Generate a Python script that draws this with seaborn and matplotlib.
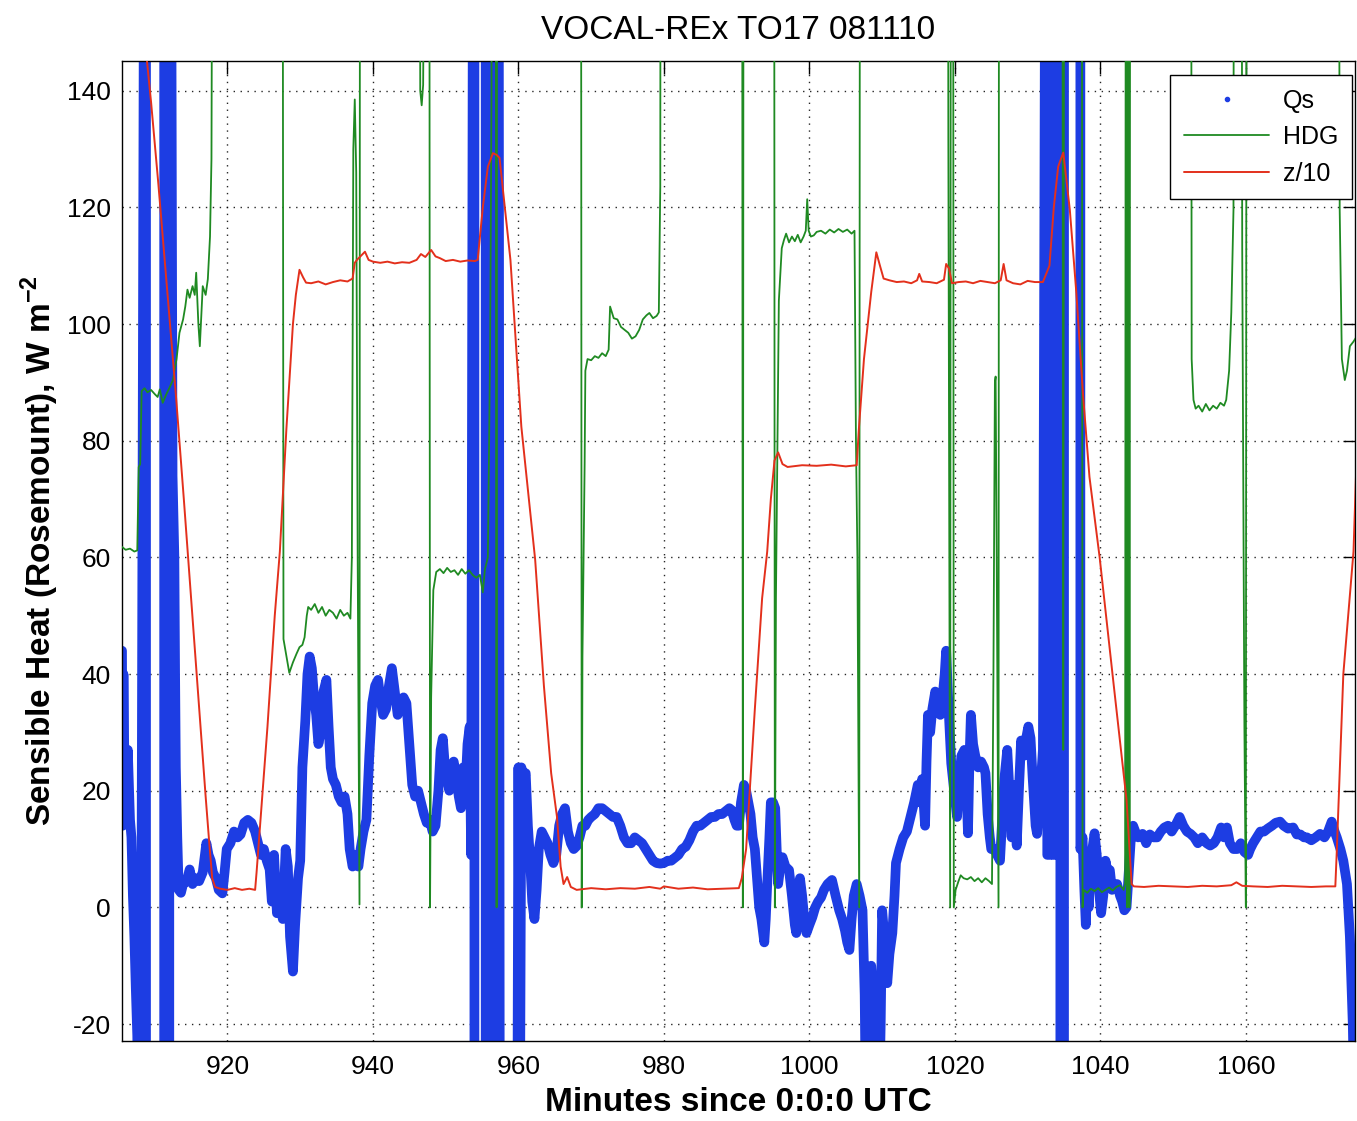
import matplotlib
matplotlib.use("Agg")
import matplotlib.pyplot as plt
from matplotlib.lines import Line2D
import pandas as pd
import seaborn as sns

# ---------------- data ----------------
title = "VOCAL-REx TO17 081110"
x_label = "Minutes since 0:0:0 UTC"
y_label = r"Sensible Heat (Rosemount), W m$^{\mathbf{-2}}$"
series_names = ["Qs", "HDG", "z/10"]
x_ticks = [920, 940, 960, 980, 1000, 1020, 1040, 1060]
y_ticks = [-20, 0, 20, 40, 60, 80, 100, 120, 140]

# Qs (sensible heat), in pieces; 300 / -60 are off-scale samples
qs_t_a = [905.5, 905.6, 905.7, 905.8, 906.0, 906.3, 906.6, 906.8, 907.0, 907.2, 907.4, 907.6, 907.8,
          908.0, 908.2, 908.8, 908.8, 911.3, 911.3, 911.7, 911.7, 912.0, 912.0]
qs_v_a = [44, 14, 40, 28, 22, 27, 15, 12, 2, -5, -14, -22, -40,
          -20, 11, 300, -60, -60, 300, 300, -60, -60, 300]

qs_t_b = [
    912.45, 912.7, 912.8, 912.9, 913.1, 913.3, 913.6, 913.9, 914.4, 914.8, 915.2, 915.6, 916.1, 916.6,
    917.1, 917.4, 917.7, 918.0, 918.4, 918.8, 919.3, 919.6, 919.9, 920.4, 920.9, 921.4, 921.8, 922.3,
    922.8, 923.3, 923.8, 924.2, 924.6, 925.0, 925.4, 925.8, 926.1, 926.4, 926.8, 927.2, 927.6, 928.0,
    928.3, 928.6, 929.0, 929.3, 929.7, 930.0, 930.3, 930.7, 931.0, 931.3, 931.6, 931.9, 932.2, 932.5,
    932.8, 933.2, 933.6, 933.9, 934.2, 934.5, 934.9, 935.3, 935.7, 936.1, 936.5, 936.8, 937.2, 937.6,
    938.0, 938.3, 938.7, 939.1, 939.5, 939.9, 940.3, 940.7, 941.0, 941.4, 941.8, 942.2, 942.6, 943.0,
    943.4, 943.8, 944.2, 944.6, 945.0, 945.4, 945.8, 946.2, 946.6, 947.0, 947.4, 947.8, 948.2, 948.6,
    949.0, 949.3, 949.6, 949.9, 950.2, 950.5, 950.8, 951.1, 951.5, 951.8, 952.1, 952.4, 952.7, 953.0,
    953.3, 953.5,
]
qs_v_b = [
    74, 60, 40, 24, 12, 3, 2.5, 4, 4.5, 6.5, 4, 5, 4.5, 6,
    11, 9, 8, 6, 5, 3, 2.4, 6, 10, 11, 13, 12, 12.5, 14.5,
    15, 14.5, 13, 11, 9, 10, 8, 6.5, 1, 9, -1, 5, -2, 10,
    7, -5, -11, -3, 5, 8, 24, 32, 40, 43, 41, 36, 33, 28,
    30, 37, 39, 31, 24, 22, 21, 19, 18, 19, 16, 10, 7, 9,
    7, 10, 13, 15, 26, 35, 38, 39, 36, 33, 34, 38, 41, 37,
    33, 35, 36, 35, 28, 21, 19, 20, 18, 16, 14.5, 15, 13, 14,
    20, 27, 29, 24, 22, 20, 24, 25, 22, 19, 17, 24, 20, 28,
    31, 9,
]

qs_t_c = [953.95, 953.95, 955.5, 955.5, 956.7, 956.7, 957.2, 957.2, 957.45, 959.8]
qs_v_c = [300, -60, -60, 300, 300, -60, -60, 300, -60, -60]

qs_t_d = [
    960.0, 960.2, 960.4, 960.7, 961.0, 961.3, 961.6, 961.9, 962.2, 962.5, 962.8, 963.2, 963.6, 964.0,
    964.4, 964.8, 965.2, 965.6, 966.0, 966.4, 966.8, 967.2, 967.6, 968.0, 968.4, 968.8, 969.2, 969.6,
    970.0, 970.5, 971.0, 971.5, 972.0, 972.5, 973.0, 973.5, 974.0, 974.5, 975.0, 975.5, 976.0, 976.5,
    977.0, 977.5, 978.0, 978.5, 979.0, 979.5, 980.0, 980.5, 981.0, 981.5, 982.0, 982.5, 983.0, 983.5,
    984.0, 984.5, 985.0, 985.5, 986.0, 986.5, 987.0, 987.5, 988.0, 988.5, 989.0, 989.3, 989.7, 990.0,
    990.3, 990.6, 991.0, 991.3, 991.6, 991.9, 992.2, 992.5, 992.8, 993.1, 993.4, 993.8, 994.0, 994.2,
    994.5, 994.7, 995.0, 995.3, 995.5, 995.7, 996.0, 996.3, 996.7, 997.2, 997.6, 998.0, 998.2, 998.5,
    998.7, 999.0, 999.3, 999.6, 1000.0, 1000.4, 1000.8, 1001.2, 1001.6, 1002.0, 1002.5, 1003.1, 1003.6,
    1004.1, 1004.5, 1004.9, 1005.2, 1005.5, 1005.8, 1006.1, 1006.5, 1006.9, 1007.3, 1007.6, 1007.8,
    1008.0, 1008.3, 1008.5, 1008.8, 1009.1, 1009.5, 1009.8, 1010.0, 1010.3, 1010.7, 1011.0, 1011.4,
    1011.7, 1011.9, 1012.4, 1012.9, 1013.4, 1013.9, 1014.4, 1014.9, 1015.2, 1015.5, 1015.9, 1016.1,
    1016.3, 1016.6, 1016.9, 1017.3, 1017.7, 1018.0, 1018.3, 1018.6, 1018.8, 1019.1, 1019.5, 1019.9,
    1020.3, 1020.6, 1020.9, 1021.3, 1021.6, 1021.8, 1022.0, 1022.2, 1022.5, 1022.8, 1023.2, 1023.6,
    1024.0, 1024.2, 1024.5, 1024.8, 1025.0, 1025.4, 1025.8, 1026.2, 1026.5, 1026.8, 1027.2, 1027.5,
    1027.8, 1028.1, 1028.5, 1028.8, 1029.1, 1029.5, 1029.8, 1030.1, 1030.4, 1030.7, 1031.1, 1031.3,
    1031.6, 1031.9, 1032.1,
]
qs_v_d = [
    24, -40, 24, 22, 23, 14, 8, 1, -2, 3, 10, 13, 12, 11,
    9, 7.6, 9, 14, 16, 17, 13, 11, 10, 10.5, 12, 14, 14, 15,
    15.5, 16, 17, 17, 16.5, 16, 15.5, 15.5, 14, 12, 11, 11, 12, 11.5,
    11, 10, 9, 8, 7.6, 7.5, 7.6, 8, 8, 8.5, 9, 10, 10.4, 11.5,
    13, 14, 14, 14.5, 15, 15.5, 15.5, 16, 16, 16.5, 17, 16.7, 15, 14,
    14, 18, 21, 20, 18, 16, 12, 10, 5, 0, -2, -6, -2, 4,
    12, 18, 18, 17, 10, 4, 7, 8.6, 7, 6.4, 2, -3, -4.4, 1,
    5, 2, -2, -4.4, -3, -1.7, 0, 1, 1.7, 3, 4, 4.7, 2,
    -0.5, -2, -4, -6, -7.3, -2, 2, 4, 2, -0.5, -15, -40,
    -25, -12, -10, -15, -25, -40, -20, -0.5, -5, -13, -8, -4.4,
    2, 7.6, 10, 12, 13, 15.5, 18, 21, 18, 22, 14, 25,
    33, 30, 34, 37, 35, 33, 36, 40, 44, 35, 24.7, 20,
    15.5, 22, 26, 27, 20, 12.7, 25, 33, 28, 26, 24, 25,
    24, 23, 16, 12, 10, 10, 9, 8, 15, 22, 27, 20,
    12, 21, 10.6, 20, 28.6, 26, 29, 31, 29, 22, 14, 12.6,
    18, 23, 27,
]

qs_t_e = [1032.7, 1032.7, 1033.1, 1033.1, 1033.5, 1033.5, 1033.9, 1033.9, 1034.5, 1034.5,
          1035.0, 1035.0, 1037.25, 1037.25]
qs_v_e = [300, 9, 9, 300, 300, 9, 9, 300, 300, -60, -60, 300, 300, 10]

qs_t_f = [
    1037.55, 1037.8, 1038.0, 1038.2, 1038.4, 1038.6, 1038.9, 1039.2, 1039.5, 1039.8, 1040.1, 1040.4,
    1040.7, 1041.0, 1041.3, 1041.6, 1042.0, 1042.3, 1042.7, 1043.0, 1043.3, 1043.6, 1043.9, 1044.2,
    1044.5, 1044.8, 1045.2, 1045.8, 1046.3, 1046.8, 1047.3, 1047.8, 1048.3, 1048.8, 1049.3, 1049.8,
    1050.3, 1050.9, 1051.4, 1051.9, 1052.4, 1052.9, 1053.4, 1054.0, 1054.6, 1055.1, 1055.6, 1056.1,
    1056.6, 1057.0, 1057.4, 1057.8, 1058.3, 1058.8, 1059.3, 1059.8, 1060.3, 1060.6, 1061.0, 1061.5,
    1062.0, 1062.5, 1063.0, 1063.6, 1064.1, 1064.7, 1065.2, 1065.8, 1066.5, 1067.0, 1067.5, 1068.0,
    1068.4, 1069.0, 1069.6, 1070.2, 1070.8, 1071.3, 1071.8, 1072.2, 1072.5, 1073.0, 1073.4, 1073.9,
    1074.3, 1074.7, 1075.0,
]
qs_v_f = [
    12, 3, -3, 5, 0, 6, 10, 12.7, 9, 3, -1, 2,
    8, 6, 6.4, 3, 4, 4, 2, 1, -0.5, 0, 6, 12,
    14, 13, 12, 12.6, 11, 12.5, 12, 12, 13, 13.7, 14, 13,
    14, 15.5, 14, 13, 12.6, 12, 11, 12, 11, 10.6, 11, 12,
    13.7, 12, 13.7, 11, 10, 10, 11, 9.5, 9, 10, 11, 12,
    13, 13, 13.5, 14, 14.5, 14.7, 14, 13.5, 13.7, 12.5, 12.5, 12,
    12, 11.5, 12, 12.6, 12, 13, 14.7, 13, 12, 10, 8, 4,
    -5, -20, -40,
]

hdg_minutes = [
    905.5, 906.0, 906.6, 907.2, 907.6, 907.8, 908.0, 908.2, 908.6, 909.0, 909.5, 910.0, 910.4, 910.7,
    911.1, 911.6, 912.0, 912.5, 913.0, 913.4, 913.9, 914.2, 914.5, 914.8, 915.2, 915.5, 915.7, 916.0,
    916.2, 916.6, 917.0, 917.3, 917.6, 917.8, 918.2,
    927.5, 927.7, 928.5, 929.0, 929.5, 929.9, 930.3, 930.6, 930.9, 931.1, 931.5, 932.0, 932.5, 933.0,
    933.5, 934.0, 934.5, 935.0, 935.5, 936.0, 936.5, 936.9, 937.1, 937.3, 937.5, 937.7, 937.9, 938.15,
    938.25, 946.3, 946.5, 946.7, 946.9, 947.7, 947.85, 948.0, 948.3, 948.7, 949.2, 949.7, 950.2, 950.7,
    951.2, 951.7, 952.2, 952.7, 953.2, 953.7, 954.2, 954.7, 955.1, 955.4, 955.8, 956.1, 956.3, 956.4,
    956.8, 957.0, 957.1,
    968.55, 968.7, 968.8, 969.1, 969.2, 969.5, 970.0, 970.5, 971.0, 971.5, 972.0, 972.4, 972.6, 973.1,
    973.6, 974.1, 974.6, 975.1, 975.6, 976.1, 976.6, 977.1, 977.6, 978.0, 978.5, 979.0, 979.3, 979.5,
    979.6, 990.7, 990.85, 991.0, 995.1, 995.25, 995.4, 995.8, 996.2, 996.5, 996.8, 997.2, 997.6,
    998.0, 998.4, 998.8, 999.2, 999.5, 999.7, 999.9, 1000.2, 1000.6, 1001.0, 1001.6, 1002.2, 1002.8,
    1003.4, 1004.0, 1004.6, 1005.2, 1005.8, 1006.2, 1006.4, 1006.6, 1006.85, 1007.0,
    1018.95, 1019.1, 1019.35, 1019.5, 1019.7, 1019.85, 1020.1, 1020.5, 1020.8, 1021.2, 1021.7, 1022.2,
    1022.7, 1023.2, 1023.7, 1024.2, 1024.7, 1025.1, 1025.3, 1025.5, 1025.6, 1025.75, 1026.0, 1026.1,
    1034.7, 1034.9, 1035.1, 1037.4, 1037.55, 1037.7, 1038.2, 1038.7, 1039.2, 1039.7, 1040.2, 1040.7,
    1041.2, 1041.7, 1042.2, 1042.7, 1043.2, 1043.4, 1043.55, 1043.7, 1043.85, 1044.0, 1044.15,
    1052.4, 1052.55, 1052.8, 1053.1, 1053.5, 1054.0, 1054.5, 1055.0, 1055.5, 1056.0, 1056.5, 1057.0,
    1057.3, 1057.7, 1058.0, 1058.3, 1058.45, 1059.3, 1059.5, 1059.8, 1060.0, 1060.15,
    1072.6, 1072.9, 1073.2, 1073.6, 1073.9, 1074.3, 1074.8, 1075.3,
]
hdg_values = [
    61.8, 61.3, 61.5, 61.0, 61.2, 75.5, 76, 88.5, 89, 88.3, 88.7, 88, 87.5, 88.8,
    86.5, 88, 89, 90.4, 94, 98.5, 100.8, 103, 105.9, 104.5, 106.5, 105, 108.8, 100,
    96.2, 106.5, 105, 107.7, 115, 128.3, 300,
    300, 46, 40.2, 42, 43.5, 44.6, 45, 46.3, 50, 51.5, 51, 52, 50.5, 51.5,
    50, 51, 50.5, 49.5, 51, 50, 50.5, 49.5, 60, 130, 138.5, 126, 60, 0.5,
    300, 300, 140, 137.5, 141, 300, 0, 36, 54.4, 57.5, 58, 57.3, 58.2, 57.5,
    57.8, 57, 58, 57.2, 57.8, 57, 56.5, 57, 54, 58, 60, 95, 140, 300,
    300, 0, 300,
    300, 0, 43, 76, 92, 94, 93.8, 94.5, 94.2, 95, 94.5, 95.6, 103, 101,
    100.8, 99.5, 99, 98.5, 97.5, 97.9, 99, 100.8, 101.5, 101.9, 101, 101.4, 102, 123.6,
    300, 300, 0, 300, 300, 0, 53, 104, 113, 114.4, 115.5, 114, 115,
    114.2, 115.3, 114, 115, 116, 121.4, 116, 115, 115.2, 115.8, 116, 115.5, 116.2,
    115.7, 116.3, 115.8, 116.2, 115.5, 116, 80, 60, 0, 300,
    300, 132, 0, 300, 300, 0, 3, 4.5, 5.5, 5, 4.8, 5.2,
    4.5, 5, 4.3, 5, 4.5, 4, 40, 90, 91, 60, 0, 300,
    300, 27, 300, 300, 0, 3, 2.5, 3.2, 2.8, 3.3, 2.6, 3,
    3.4, 2.9, 3.5, 3.8, 3, 4, 300, 0, 300, 0, 300,
    300, 94, 87, 85.5, 86, 85, 86.3, 85.2, 86, 85.5, 86.5, 86,
    87, 92, 102, 119.6, 300, 300, 113, 31, 0, 300,
    300, 119.6, 94, 90.4, 92, 96.2, 97, 98,
]

z_minutes = [
    908.7, 909.5, 910.5, 911.5, 912.9, 914.0, 915.0, 916.0, 917.0, 917.5, 917.9, 918.3, 919.0, 920.0,
    921.0, 922.0, 923.0, 923.8, 924.0, 924.4, 925.5, 926.5, 927.2, 928.1, 929.0, 929.4, 929.9, 930.4,
    930.8, 931.5, 932.5, 933.5, 934.5, 935.5, 936.5, 937.2, 937.5, 937.8, 938.2, 938.9, 939.4, 940.0,
    941.0, 942.0, 943.0, 944.0, 945.0, 946.0, 946.6, 947.2, 948.0, 948.6, 949.2, 950.0, 951.0, 952.0,
    953.0, 954.0, 954.4, 955.1, 955.8, 956.5, 957.0, 957.4, 958.9, 960.4, 962.3, 963.5, 964.5, 965.3,
    965.8, 966.2, 966.7, 967.2, 968.0, 970.0, 972.0, 974.0, 976.0, 978.0, 979.5, 980.0, 982.0, 984.0,
    986.0, 988.0, 990.3, 990.7, 991.3, 992.5, 993.5, 994.2, 994.7, 995.2, 995.7, 996.3, 997.0, 999.0,
    1001.0, 1003.0, 1005.0, 1006.5, 1006.8, 1007.5, 1008.5, 1009.2, 1009.7, 1010.2, 1011.0, 1012.0,
    1013.0, 1014.0, 1014.8, 1015.1, 1015.5, 1016.5, 1017.5, 1018.5, 1018.8, 1019.2, 1019.6, 1020.5,
    1021.5, 1022.5, 1023.5, 1024.5, 1025.5, 1026.3, 1026.7, 1027.1, 1028.0, 1029.0, 1030.0, 1031.0,
    1032.1, 1033.0, 1033.6, 1034.2, 1034.9, 1035.8, 1036.7, 1037.6, 1038.5, 1039.9, 1041.8, 1043.6,
    1044.3, 1044.6, 1046.0, 1048.0, 1050.0, 1052.0, 1054.0, 1056.0, 1058.0, 1058.7, 1059.5, 1061.0,
    1063.0, 1065.0, 1067.0, 1069.0, 1071.0, 1072.3, 1072.5, 1073.4, 1074.8, 1075.3,
]
z_values = [
    148, 138, 124, 109, 88, 70, 53, 36, 19, 11, 5, 3.5, 3.2, 3.0,
    3.3, 3.0, 3.2, 3.0, 6, 12.7, 31, 50, 61, 82, 100, 105, 109.3, 108,
    107.1, 107, 107.3, 106.8, 107.2, 107.5, 107.3, 107.8, 110.5, 111, 111.5, 112.4, 111, 110.7,
    110.5, 110.7, 110.4, 110.6, 110.5, 111, 112, 111.5, 112.7, 111.6, 111.3, 110.8, 111, 110.7,
    110.9, 110.8, 111, 120, 127, 129.3, 129, 128.5, 111, 82.4, 59.6, 38, 23, 15.5,
    7, 4, 5.2, 3.5, 3, 3.3, 3.1, 3.3, 3.2, 3.5, 3.2, 3.6, 3.2, 3.4,
    3.1, 3.2, 3.3, 5, 10, 34, 53, 61, 70, 76.6, 78, 76, 75.5, 75.8,
    75.7, 75.9, 75.6, 75.8, 82, 94, 105.5, 112.3, 110, 107.8, 107.5, 107.2,
    107.3, 107, 107.5, 108.6, 107.3, 107.2, 107, 107.6, 110.3, 109.5, 107, 107.2,
    107.3, 107, 107.4, 107.2, 107, 107.5, 110.3, 107.5, 107, 106.8, 107.4, 107.2,
    107.2, 110, 120, 127, 129.4, 119.6, 105.3, 88.2, 73.8, 60, 38.5, 18.4,
    4, 3.6, 3.5, 3.7, 3.6, 3.5, 3.7, 3.6, 3.8, 4.3, 3.7, 3.6,
    3.5, 3.7, 3.6, 3.5, 3.6, 3.6, 9.6, 40, 61, 80,
]

qs_minutes = qs_t_a + qs_t_b + qs_t_c + qs_t_d + qs_t_e + qs_t_f
qs_values = qs_v_a + qs_v_b + qs_v_c + qs_v_d + qs_v_e + qs_v_f

# ---------------- styling ----------------
sns.set_style("white")
plt.rcParams["font.family"] = ["Liberation Sans", "DejaVu Sans"]
plt.rcParams["mathtext.fontset"] = "custom"
plt.rcParams["mathtext.rm"] = "Liberation Sans"
plt.rcParams["mathtext.bf"] = "Liberation Sans:bold"
plt.rcParams["axes.unicode_minus"] = False
for k in ["text.color", "axes.labelcolor", "xtick.color", "ytick.color", "axes.edgecolor"]:
    plt.rcParams[k] = "black"

c_qs = "#1d3de3"
c_hdg = "#1f8a22"
c_z = "#e3301c"

fig = plt.figure(figsize=(13.57, 11.21), dpi=100)
ax = fig.add_axes([0.0899, 0.0714, 0.9086, 0.8742])

qs_df = pd.DataFrame({"t": qs_minutes, "v": qs_values})
hdg_df = pd.DataFrame({"t": hdg_minutes, "v": hdg_values})
z_df = pd.DataFrame({"t": z_minutes, "v": z_values})

sns.lineplot(data=qs_df, x="t", y="v", ax=ax, sort=False, estimator=None,
             color=c_qs, linewidth=7.0, solid_joinstyle="round", solid_capstyle="round", zorder=2)
sns.lineplot(data=hdg_df, x="t", y="v", ax=ax, sort=False, estimator=None,
             color=c_hdg, linewidth=1.3, zorder=3)
sns.lineplot(data=z_df, x="t", y="v", ax=ax, sort=False, estimator=None,
             color=c_z, linewidth=1.4, zorder=4)

ax.set_xlim(905.5, 1075.0)
ax.set_ylim(-22.9, 145.1)
ax.set_xticks(x_ticks)
ax.set_yticks(y_ticks)
ax.tick_params(axis="both", which="both", direction="in", length=9, width=1,
               labelsize=19, top=True, right=True)
ax.tick_params(axis="x", pad=10)
ax.tick_params(axis="y", pad=8)
ax.grid(True, linestyle=(0, (1, 4)), color="black", linewidth=1.0, alpha=0.85)
ax.set_axisbelow(True)
for s in ax.spines.values():
    s.set_visible(True)
    s.set_color("black")
    s.set_linewidth(1.0)

ax.set_title(title, fontsize=24, pad=16)
ax.set_xlabel(x_label, fontsize=24, fontweight="bold", labelpad=6)
ax.set_ylabel(y_label, fontsize=24, fontweight="bold", labelpad=4)

handles = [
    Line2D([], [], color=c_qs, marker=".", linestyle="none", markersize=6),
    Line2D([], [], color=c_hdg, linewidth=1.3),
    Line2D([], [], color=c_z, linewidth=1.4),
]
leg = ax.legend(handles, series_names, loc="upper right", bbox_to_anchor=(0.9976, 0.9857),
                borderaxespad=0.0, fontsize=18, frameon=True, fancybox=False, shadow=False,
                handlelength=3.4, handletextpad=0.55, borderpad=0.55, labelspacing=0.5,
                framealpha=1.0, edgecolor="black")
leg.get_frame().set_linewidth(1.0)

fig.savefig("out.png", dpi=100, facecolor="white")
